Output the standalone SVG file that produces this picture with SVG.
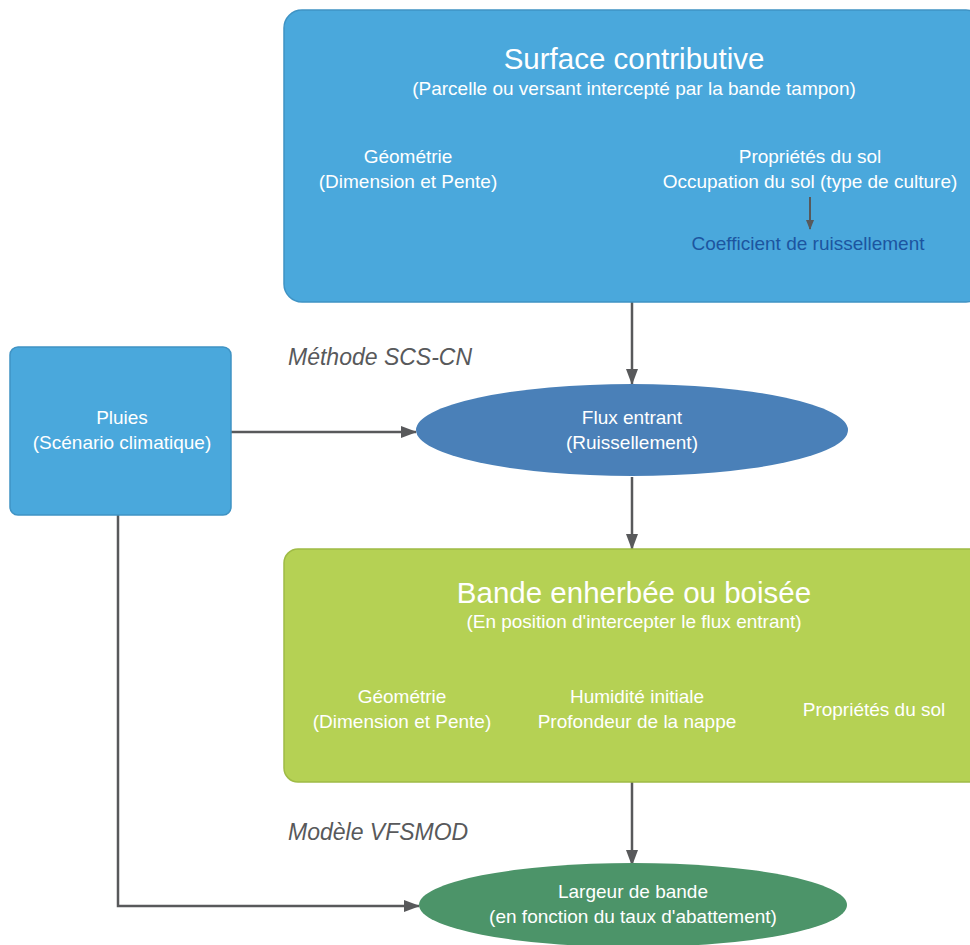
<svg xmlns="http://www.w3.org/2000/svg" width="970" height="945" viewBox="0 0 970 945">
<defs>
<marker id="ah" markerWidth="16" markerHeight="12" refX="15" refY="6" orient="auto" markerUnits="userSpaceOnUse">
<path d="M0,0 L16,6 L0,12 Z" fill="#58595b"/>
</marker>
<marker id="ahs" markerWidth="10" markerHeight="10" refX="9" refY="5" orient="auto" markerUnits="userSpaceOnUse">
<path d="M0,1 L10,5 L0,9 Z" fill="#58595b"/>
</marker>
<style>
text{font-family:"Liberation Sans",Arial,sans-serif;fill:#ffffff;text-anchor:middle}
.t{font-size:29.5px}
.s{font-size:19px}
.lab{font-size:23px;font-style:italic;fill:#58595b;text-anchor:start}
.dk{fill:#1c55a0}
.c{stroke:#58595b;stroke-width:2.5;fill:none}
.cs{stroke:#58595b;stroke-width:2;fill:none}
</style>
</defs>
<rect width="970" height="945" fill="#ffffff"/>
<g id="connectors">
<line class="c" x1="632" y1="302" x2="632" y2="384" marker-end="url(#ah)"/>
<line class="c" x1="632" y1="477" x2="632" y2="549" marker-end="url(#ah)"/>
<line class="c" x1="632" y1="782" x2="632" y2="865" marker-end="url(#ah)"/>
<line class="c" x1="231" y1="432" x2="416" y2="432" marker-end="url(#ah)"/>
<polyline class="c" points="118,515 118,906 419,906" marker-end="url(#ah)"/>
</g>
<g id="surface">
<rect x="284" y="10" width="700" height="292" rx="18" fill="#4aa8dc" stroke="#3f93c4" stroke-width="1.5"/>
<text class="t" x="634" y="69">Surface contributive</text>
<text class="s" x="634" y="95">(Parcelle ou versant intercepté par la bande tampon)</text>
<text class="s" x="408" y="163">Géométrie</text>
<text class="s" x="408" y="188">(Dimension et Pente)</text>
<text class="s" x="810" y="163">Propriétés du sol</text>
<text class="s" x="810" y="188">Occupation du sol (type de culture)</text>
<line class="cs" x1="810" y1="197" x2="810" y2="229" marker-end="url(#ahs)"/>
<text class="s dk" x="808" y="250">Coefficient de ruissellement</text>
</g>
<g id="pluies">
<rect x="10" y="347" width="221" height="168" rx="8" fill="#4aa8dc" stroke="#3f93c4" stroke-width="1.5"/>
<text class="s" x="122" y="424">Pluies</text>
<text class="s" x="122" y="449">(Scénario climatique)</text>
</g>
<g id="flux">
<ellipse cx="632" cy="430" rx="216" ry="46" fill="#4a80b8"/>
<text class="s" x="632" y="424">Flux entrant</text>
<text class="s" x="632" y="449">(Ruissellement)</text>
</g>
<g id="bande">
<rect x="284" y="549" width="700" height="233" rx="14" fill="#b5d154" stroke="#9fbb45" stroke-width="1.5"/>
<text class="t" x="634" y="603">Bande enherbée ou boisée</text>
<text class="s" x="634" y="628">(En position d'intercepter le flux entrant)</text>
<text class="s" x="402" y="703">Géométrie</text>
<text class="s" x="402" y="728">(Dimension et Pente)</text>
<text class="s" x="637" y="703">Humidité initiale</text>
<text class="s" x="637" y="728">Profondeur de la nappe</text>
<text class="s" x="874" y="716">Propriétés du sol</text>
</g>
<g id="largeur">
<ellipse cx="633" cy="905" rx="214" ry="42" fill="#4c9469"/>
<text class="s" x="633" y="898">Largeur de bande</text>
<text class="s" x="633" y="923">(en fonction du taux d'abattement)</text>
</g>
<g id="labels">
<text class="lab" x="288" y="365">Méthode SCS-CN</text>
<text class="lab" x="288" y="840">Modèle VFSMOD</text>
</g>
</svg>
